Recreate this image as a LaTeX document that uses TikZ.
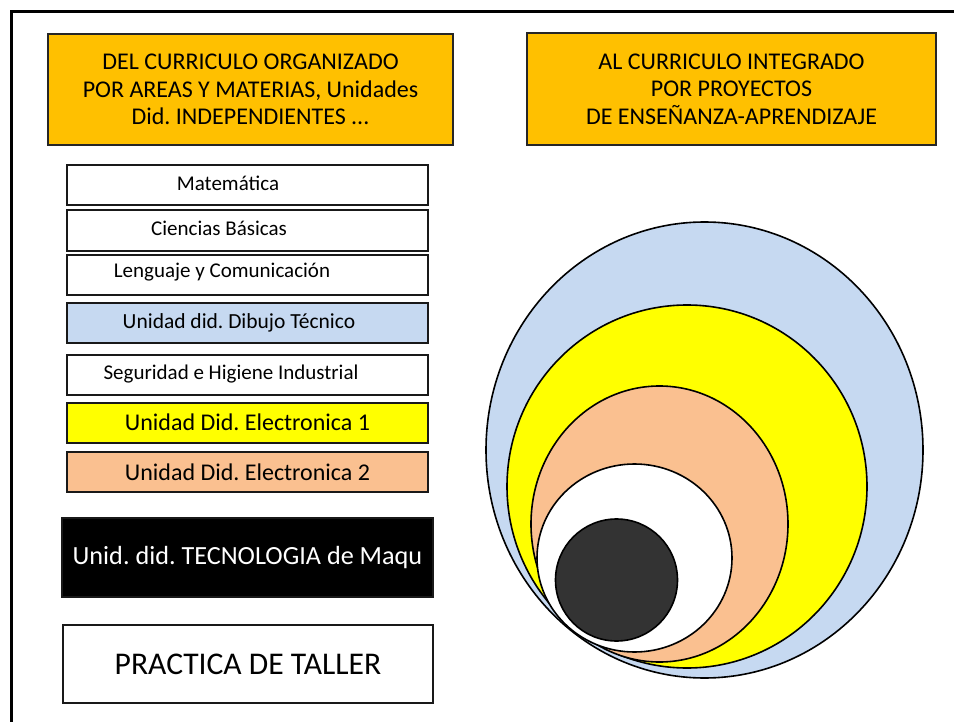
\documentclass[tikz,border=0pt]{standalone}
\usepackage{fontspec}
\setmainfont{Carlito}
\frenchspacing
\definecolor{gold}{HTML}{FFC000}
\definecolor{paleblue}{HTML}{C6D9F1}
\definecolor{peach}{HTML}{FAC090}
\definecolor{lemon}{HTML}{FFFF00}
\definecolor{coal}{HTML}{333333}
\begin{document}
\begin{tikzpicture}[x=0.5pt,y=-0.5pt,
	head/.style={draw=black!85,line width=0.7pt,fill=gold,align=center,inner sep=0pt,
		font=\fontsize{12}{13.8}\selectfont},
	subj/.style={draw=black!90,line width=1pt,fill=white,inner sep=0pt,
		minimum width=180.5pt,minimum height=20pt,font=\fontsize{10.5}{12}\selectfont},
	ring/.style={draw=black,line width=0.8pt}]
	\useasboundingbox (0,0) rectangle (954,722);
	\draw [line width=1.5pt] (11,722) -- (11,12) -- (954,12);

	% titles
	\node[head,minimum width=202.5pt,minimum height=55.5pt] (old) at (250.5,89.5)
		{DEL CURRICULO ORGANIZADO\\POR AREAS Y MATERIAS, Unidades\\Did. INDEPENDIENTES ...};
	\node[head,minimum width=204.5pt,minimum height=56pt] (new) at (731.5,89)
		{AL CURRICULO INTEGRADO\\POR PROYECTOS\\DE ENSEÑANZA-APRENDIZAJE};

	% subjects
	\node[subj,label={[xshift=-9.75pt,yshift=0.75pt,font=\fontsize{10.5}{12}\selectfont]center:Matemática}] (mat) at (247.5,185) {};
	\node[subj,label={[xshift=-14.25pt,yshift=1pt,font=\fontsize{10.5}{12}\selectfont]center:Ciencias Básicas}] (cien) at (247.5,230.5) {};
	\node[subj,label={[xshift=-12.75pt,yshift=1pt,font=\fontsize{10.5}{12}\selectfont]center:Lenguaje y Comunicación}] (leng) at (247.5,274.5) {};
	\node[subj,fill=paleblue,label={[xshift=-4.25pt,font=\fontsize{10.75}{12}\selectfont]center:Unidad did. Dibujo Técnico}] (dib) at (247.5,322.5) {};
	\node[subj,label={[xshift=-8.25pt,font=\fontsize{10.5}{12}\selectfont]center:Seguridad e Higiene Industrial}] (seg) at (247.5,374.5) {};
	\node[subj,fill=lemon,font=\fontsize{12}{14}\selectfont] (el1) at (247.5,422.5) {Unidad Did. Electronica 1};
	\node[subj,fill=peach,font=\fontsize{12}{14}\selectfont] (el2) at (247.5,472) {Unidad Did. Electronica 2};
	\node[subj,fill=black,text=white,minimum width=185.5pt,minimum height=39.5pt,
		font=\fontsize{13.1}{16}\selectfont] (tec) at (247.5,557.5) {Unid. did. TECNOLOGIA de Maqu};
	\node[subj,minimum width=185pt,minimum height=39pt,
		font=\fontsize{15.8}{18}\selectfont] (pra) at (248,664) {PRACTICA DE TALLER};

	% nested projects
	\draw[ring,fill=paleblue] (704.5,450) ellipse [x radius=218.5,y radius=228];
	\draw[ring,fill=lemon] (687,486.5) ellipse [x radius=180,y radius=181.5];
	\draw[ring,fill=peach] (659.5,524) ellipse [x radius=128.5,y radius=138];
	\draw[ring,fill=white] (634.5,558) ellipse [x radius=97.5,y radius=94];
	\draw[ring,fill=coal] (616.5,580) circle [radius=61];
\end{tikzpicture}
\end{document}
